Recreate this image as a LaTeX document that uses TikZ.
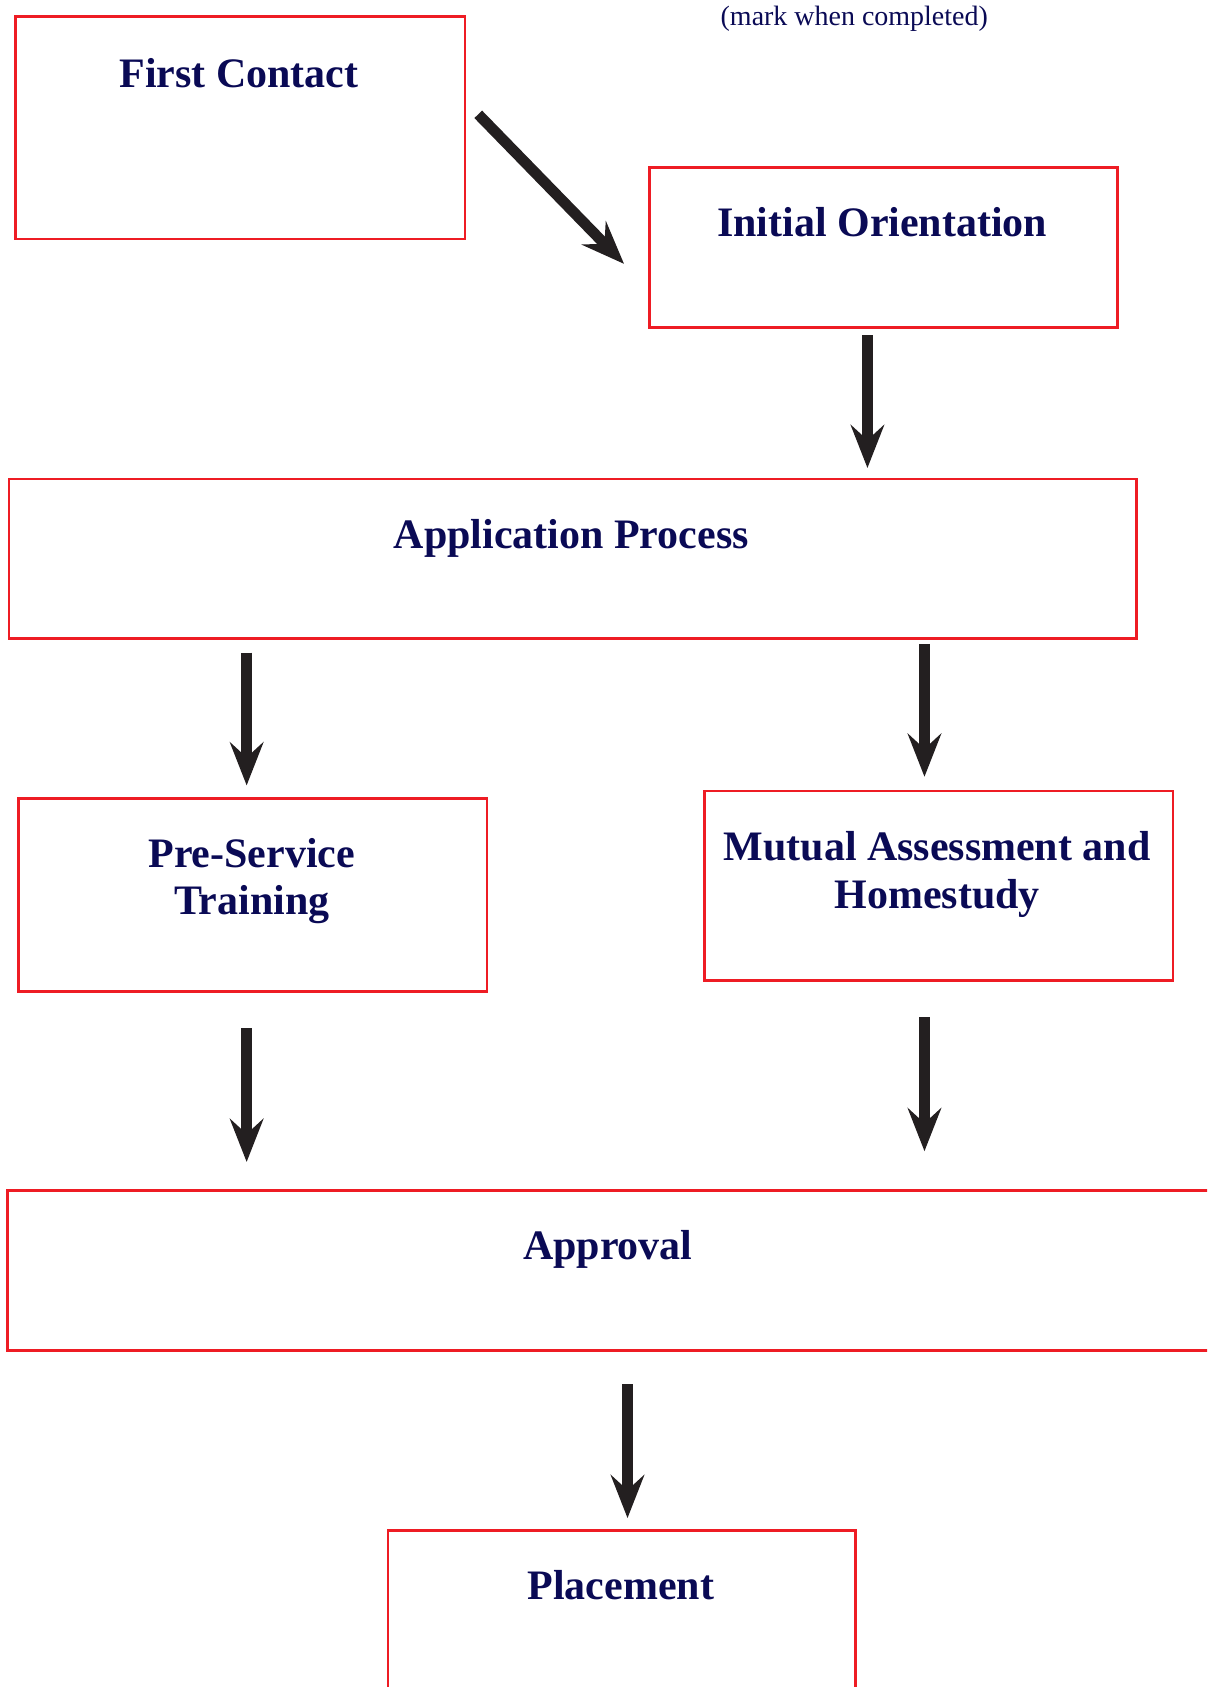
\documentclass[tikz,border=0pt]{standalone}
\usepackage{fontspec}
\setmainfont{Liberation Serif}
\usetikzlibrary{arrows.meta,calc}
\definecolor{navy}{HTML}{0A0A55}
\definecolor{boxred}{HTML}{EE1C24}
\definecolor{arrowdark}{HTML}{231F20}
\begin{document}
\begin{tikzpicture}[x=1pt,y=-1pt,
  box/.style={draw=boxred,line width=2.5pt,inner sep=0pt,anchor=north west},
  lbl/.style={text=navy,font=\fontsize{39}{44}\selectfont\bfseries,inner sep=0pt,align=center,anchor=base},
  note/.style={text=navy,font=\fontsize{26}{30}\selectfont,inner sep=0pt,anchor=base},
  arr/.style={draw=arrowdark,line width=10pt,-{Stealth[length=40pt,width=31pt,inset=14pt]}}]
\useasboundingbox (0,0) rectangle (1122,1568);
\clip (0,0) rectangle (1122,1568);
% boxes
\node[box,minimum width=418pt,minimum height=207pt] (fc) at (13,14) {};
\node[box,minimum width=435pt,minimum height=148.5pt] (io) at (602.5,154.5) {};
\node[box,minimum width=1048pt,minimum height=148pt] (app) at (7,444) {};
\node[box,minimum width=435.5pt,minimum height=179pt] (ps) at (16,741) {};
\node[box,minimum width=435.5pt,minimum height=176pt] (ma) at (653.5,734) {};
\node[box,minimum width=1129pt,minimum height=148.5pt] (apr) at (6,1105.5) {};
\node[box,minimum width=434.5pt,minimum height=170pt] (pl) at (359.5,1421) {};
% texts
\node[note] (mark) at (794,24) {(mark when completed)};
\node[lbl] (fct) at (222,81) {First Contact};
\node[lbl] (iot) at (820,220) {Initial Orientation};
\node[lbl] (appt) at (531,510) {Application Process};
\node[lbl] (pst) at (234,850) {Pre-Service\\Training};
\node[lbl] (mat) at (871,844) {Mutual Assessment and\\Homestudy};
\node[lbl] (aprt) at (565,1171) {Approval};
\node[lbl] (plt) at (577,1487) {Placement};
% arrows
\draw[arr] ($(fc.east)+(11,-12.5)$) -- ($(io.west)+(-22.5,15.25)$);
\draw[arr] ($(io.south)+(-15,6)$) -- ($(app.north)+(274,-9)$);
\draw[arr] ($(app.south)+(-303,12)$) -- ($(ps.north)+(-5.75,-11)$);
\draw[arr] ($(app.south)+(327,4)$) -- ($(ma.north)+(-13.25,-12)$);
\draw[arr] ($(ps.south)+(-5.75,33)$) -- ($(apr.north)+(-342.5,-25.5)$);
\draw[arr] ($(ma.south)+(-13.25,33)$) -- ($(apr.north)+(287.5,-35.5)$);
\draw[arr] ($(apr.south)+(11.5,30)$) -- ($(pl.north)+(5.25,-10)$);
\end{tikzpicture}
\end{document}
